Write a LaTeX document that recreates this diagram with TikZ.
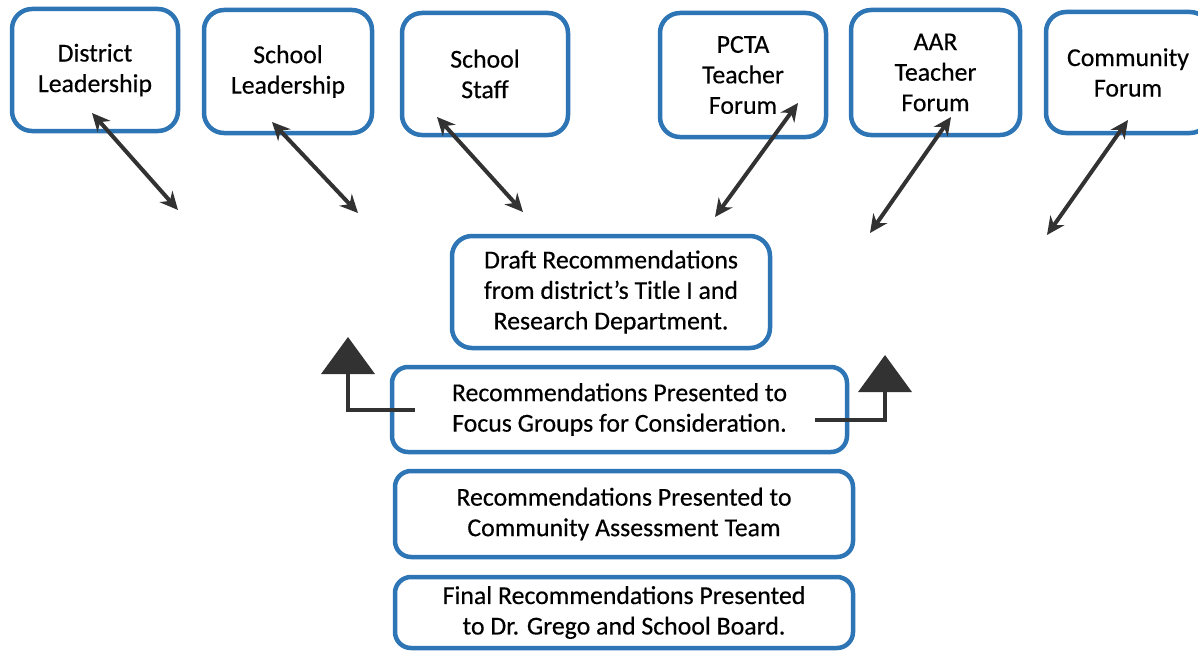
\documentclass[tikz,border=0pt]{standalone}
\usepackage{fontspec}
\setmainfont[FakeBold=0.4]{Carlito}
\usepackage{xcolor}
\usepackage{tikz}
\usetikzlibrary{arrows.meta}
\definecolor{boxblue}{RGB}{46,117,182}
\definecolor{arrowgray}{RGB}{50,50,50}

\begin{document}
\begin{tikzpicture}[x=1pt, y=-1pt,
    box/.style={draw=boxblue, line width=4.5pt, rounded corners=20pt, fill=white,
        align=center, inner sep=0pt, text=black, font=\fontsize{25.8}{30.5}\selectfont},
    link/.style={arrowgray, line width=4pt,
        {Stealth[length=18pt,width=17pt]}-{Stealth[length=18pt,width=17pt]}},
    turn/.style={arrowgray, line width=4pt, -{Triangle[length=37pt,width=53pt]}}]
    \useasboundingbox (0,0) rectangle (1198,650);

    % 上排
    \node[box, minimum width=166pt, minimum height=122pt] (dist) at (95,70) {District\\Leadership};
    \node[box, minimum width=168pt, minimum height=123pt] (schl) at (288,71.5) {School\\Leadership};
    \node[box, minimum width=166pt, minimum height=122pt] (staff) at (485,74) {School\\Staff};
    \node[box, minimum width=166pt, minimum height=124pt] (pcta) at (743,75) {PCTA\\Teacher\\Forum};
    \node[box, minimum width=169pt, minimum height=125pt] (aar) at (935.5,72.5) {AAR\\Teacher\\Forum};
    \node[box, minimum width=164pt, minimum height=121pt] (comm) at (1128,72.5) {Community\\Forum};

    % 中间
    \node[box, minimum width=318pt, minimum height=112pt] (draft) at (611,292)
        {Draft Recommendations\\from district’s Title I and\\Research Department.};
    \node[box, minimum width=455pt, minimum height=85pt, rounded corners=16pt] (focus) at (619.5,409.5)
        {Recommendations Presented to\\Focus Groups for Consideration.};
    \node[box, minimum width=458pt, minimum height=86pt, rounded corners=16pt] (cat) at (624,514)
        {Recommendations Presented to\\Community Assessment Team};
    \node[box, minimum width=458pt, minimum height=71pt, rounded corners=16pt] (final) at (624,612.5)
        {Final Recommendations Presented\\to Dr. Grego and School Board.};

    % 双向箭头
    \coordinate (dist-a) at (92,113);   \coordinate (dist-b) at (178,210);
    \coordinate (schl-a) at (272,122);  \coordinate (schl-b) at (358,213);
    \coordinate (staff-a) at (437,117); \coordinate (staff-b) at (523,212);
    \coordinate (pcta-a) at (798,103);  \coordinate (pcta-b) at (715,217);
    \coordinate (aar-a) at (951,117);   \coordinate (aar-b) at (870,233);
    \coordinate (comm-a) at (1128,120); \coordinate (comm-b) at (1047,235);
    \foreach \n in {dist,schl,staff,pcta,aar,comm}
        \draw[link] (\n-a) -- (\n-b);

    % 折线箭头
    \coordinate (focus-l) at (415,410);
    \coordinate (up-l) at (348,337);
    \draw[turn] (focus-l) -| (up-l);
    \coordinate (focus-r) at (815,420);
    \coordinate (up-r) at (885,355);
    \draw[turn] (focus-r) -| (up-r);
\end{tikzpicture}
\end{document}
